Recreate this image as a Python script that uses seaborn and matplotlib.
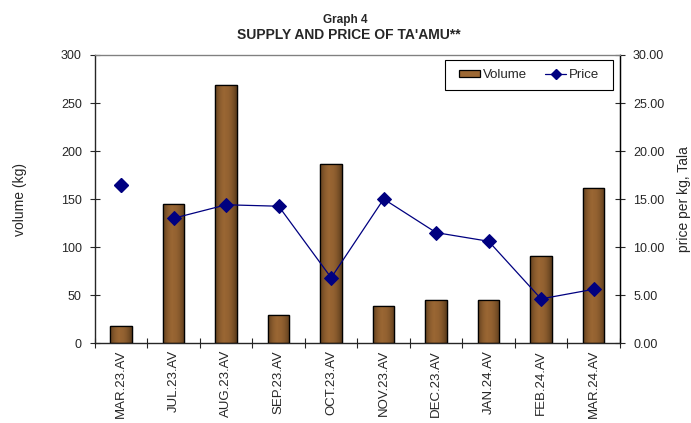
import numpy as np
import pandas as pd
import matplotlib
matplotlib.use("Agg")
import matplotlib.pyplot as plt
from matplotlib.colors import LinearSegmentedColormap
from matplotlib.lines import Line2D
from matplotlib.patches import Patch, Rectangle
import seaborn as sns

# datos
months = ["MAR.23.AV", "JUL.23.AV", "AUG.23.AV", "SEP.23.AV", "OCT.23.AV",
          "NOV.23.AV", "DEC.23.AV", "JAN.24.AV", "FEB.24.AV", "MAR.24.AV"]
volume = [18, 145, 269, 29, 186, 39, 45, 45, 91, 161]
price = [16.5, 13.0, 14.4, 14.25, 6.8, 15.0, 11.5, 10.6, 4.6, 5.6]

COLOR_PRICE = "#000080"
BAR_DARK = "#2b1a0a"
BAR_LIGHT = "#9c6834"

sns.set_style("ticks")
plt.rcParams["font.family"] = ["Liberation Sans", "DejaVu Sans"]
plt.rcParams["font.size"] = 9

df = pd.DataFrame({"month": months, "volume": volume})

fig, ax = plt.subplots(figsize=(6.91, 4.23), dpi=100)
fig.subplots_adjust(left=0.1375, right=0.897, top=0.870, bottom=0.189)

sns.barplot(data=df, x="month", y="volume", ax=ax, width=0.41,
            color=BAR_LIGHT, edgecolor="black", linewidth=0.9, saturation=1)

# degradado tipo cilindro en las barras
cmap = LinearSegmentedColormap.from_list("bar", [BAR_DARK, BAR_LIGHT])
xs = np.linspace(0, 1, 64)
profile = np.clip(np.sin(np.pi * (0.08 + 0.84 * xs)) ** 0.6, 0, 1)
profile = profile * np.where(xs < 0.45, 1.0, 0.9 + 0.1 * (1 - xs))
for p in ax.patches:
    x0, y0 = p.get_x(), p.get_y()
    w, h = p.get_width(), p.get_height()
    im = ax.imshow(profile[np.newaxis, :], cmap=cmap, vmin=0, vmax=1,
                   extent=(x0, x0 + w, y0, y0 + h), aspect="auto",
                   interpolation="bicubic", zorder=p.get_zorder() + 0.1)
    im.set_clip_path(p)
    edge = plt.Rectangle((x0, y0), w, h, fill=False, edgecolor="black",
                         linewidth=0.9, zorder=p.get_zorder() + 0.2)
    ax.add_patch(edge)

ax.set_xlim(-0.5, len(months) - 0.5)
ax.set_ylim(0, 300)
ax.set_yticks(range(0, 301, 50))
ax.set_xlabel("")
ax.set_ylabel("volume (kg)", fontsize=10, labelpad=24)
ax.set_xticks(range(len(months)))
ax.set_xticklabels(months, rotation=90, fontsize=9.5)
ax.set_xticks(np.arange(-0.5, len(months), 1), minor=True)
ax.tick_params(axis="x", which="major", length=0, pad=5)
ax.tick_params(axis="x", which="minor", length=7, direction="inout", width=0.8)
ax.tick_params(axis="y", length=7, direction="inout", width=0.8, labelsize=9, pad=6)

for side in ["left", "right", "bottom"]:
    ax.spines[side].set_color("black")
    ax.spines[side].set_linewidth(0.9)
ax.spines["top"].set_visible(True)
ax.spines["top"].set_color("#808080")
ax.spines["top"].set_linewidth(0.9)

# precio en eje secundario
ax2 = ax.twinx()
pos = np.arange(len(months))
sns.lineplot(x=pos[1:], y=price[1:], ax=ax2, color=COLOR_PRICE, linewidth=0.9,
             marker="D", markersize=7, markeredgecolor=COLOR_PRICE)
ax2.plot(pos[:1], price[:1], linestyle="none", marker="D", markersize=7,
         color=COLOR_PRICE)
ax2.set_ylim(0, 30)
ax2.set_yticks(np.arange(0, 30.1, 5))
ax2.set_yticklabels([f"{v:.2f}" for v in np.arange(0, 30.1, 5)])
ax2.tick_params(axis="y", length=7, direction="inout", width=0.8, labelsize=9, pad=6)
ax2.set_ylabel("price per kg, Tala", fontsize=10, labelpad=9)
ax2.spines["right"].set_color("black")
ax2.spines["right"].set_linewidth(0.9)
ax2.spines["top"].set_color("#808080")

# leyenda con marco propio
lx0, lx1, ly0, ly1 = 0.6667, 0.9867, 0.8785, 0.9826
ax2.add_patch(Rectangle((lx0, ly0), lx1 - lx0, ly1 - ly0, transform=ax2.transAxes,
                        facecolor="white", edgecolor="black", linewidth=0.8,
                        zorder=4.5, clip_on=False))
handles = [
    Patch(facecolor=BAR_LIGHT, edgecolor="black", linewidth=0.9, label="Volume"),
    Line2D([0], [0], color=COLOR_PRICE, marker="D", markersize=5,
           linewidth=0.9, label="Price"),
]
leg = ax2.legend(handles=handles, loc="center", ncol=2, fontsize=9.5,
                 frameon=False, bbox_to_anchor=((lx0 + lx1) / 2, (ly0 + ly1) / 2),
                 borderaxespad=0, borderpad=0,
                 handlelength=1.6, handleheight=0.5, handletextpad=0.2,
                 columnspacing=1.4)
leg.set_zorder(5)

fig.text(0.5, 1 - 23 / 423, "Graph 4", ha="center", va="baseline",
         fontsize=8.5, fontweight="bold")
fig.text(0.505, 1 - 39 / 423, "SUPPLY AND PRICE OF TA'AMU**", ha="center",
         va="baseline", fontsize=10, fontweight="bold")

fig.savefig("out.png", dpi=100)
